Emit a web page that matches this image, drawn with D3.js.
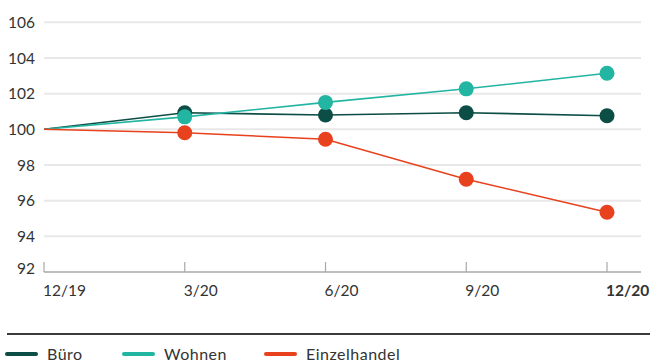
<!DOCTYPE html>
<html>
<head>
<meta charset="utf-8">
<script src="https://cdn.jsdelivr.net/npm/d3@7"></script>
<style>
  html, body { margin: 0; padding: 0; background: #fff; }
  svg { display: block; font-family: Lato, "Open Sans", sans-serif; }
</style>
</head>
<body>
<svg id="chart" width="650" height="362"></svg>
<script>
// Quarterly index values (12/19 = 100)
const periods = ["12/19", "3/20", "6/20", "9/20", "12/20"];
const bueroValues = [100, 100.93, 100.8, 100.93, 100.76];
const wohnenValues = [100, 100.7, 101.51, 102.27, 103.14];
const einzelhandelValues = [100, 99.81, 99.44, 97.2, 95.35];
const yTicks = [92, 94, 96, 98, 100, 102, 104, 106];
const seriesNames = ["Büro", "Wohnen", "Einzelhandel"];
const seriesColors = ["#0c4d45", "#22b5a2", "#e8411d"];

const series = [
  { name: seriesNames[0], values: bueroValues, color: seriesColors[0] },
  { name: seriesNames[1], values: wohnenValues, color: seriesColors[1] },
  { name: seriesNames[2], values: einzelhandelValues, color: seriesColors[2] }
];

const svg = d3.select("#chart");
const plotLeft = 44, plotRight = 641, plotTop = 22.3, plotBottom = 272;

const x = d3.scalePoint().domain(periods).range([plotLeft, 607]);
const y = d3.scaleLinear().domain([92, 106]).range([plotBottom, plotTop]);

// horizontal gridlines
svg.append("g")
  .selectAll("line")
  .data(yTicks.filter(t => t > 92))
  .join("line")
  .attr("x1", plotLeft).attr("x2", plotRight)
  .attr("y1", d => y(d)).attr("y2", d => y(d))
  .attr("stroke", "#e8e8e8").attr("stroke-width", 2);

// y labels
svg.append("g")
  .selectAll("text")
  .data(yTicks)
  .join("text")
  .attr("x", 35)
  .attr("y", d => y(d) + (d === 92 ? -4 : 0))
  .attr("dy", "0.36em")
  .attr("text-anchor", "end")
  .attr("font-size", 15.5)
  .attr("fill", "#333")
  .text(d => d);

// x axis
const xAxis = svg.append("g").attr("transform", `translate(0,${plotBottom})`);
xAxis.append("line")
  .attr("x1", plotLeft).attr("x2", plotRight)
  .attr("stroke", "#a8a8a8").attr("stroke-width", 1.5);
xAxis.selectAll(".tick")
  .data(periods)
  .join("line")
  .attr("class", "tick")
  .attr("x1", d => x(d)).attr("x2", d => x(d))
  .attr("y1", -10).attr("y2", 0)
  .attr("stroke", "#a8a8a8").attr("stroke-width", 1.2);
xAxis.selectAll("text")
  .data(periods)
  .join("text")
  .attr("x", d => x(d) - 1)
  .attr("y", 24)
  .attr("font-size", 15.5)
  .attr("fill", "#333")
  .attr("font-weight", (d, i) => i === periods.length - 1 ? 700 : 400)
  .text(d => d);

// lines and dots
const line = d3.line().x((d, i) => x(periods[i])).y(d => y(d));
const g = svg.append("g");
series.forEach(s => {
  g.append("path")
    .datum(s.values)
    .attr("fill", "none")
    .attr("stroke", s.color)
    .attr("stroke-width", 1.6)
    .attr("d", line);
});
series.forEach(s => {
  g.append("g")
    .selectAll("circle")
    .data(s.values.slice(1))
    .join("circle")
    .attr("cx", (d, i) => x(periods[i + 1]))
    .attr("cy", d => y(d))
    .attr("r", 7.5)
    .attr("fill", s.color);
});

// legend
svg.append("line")
  .attr("x1", 7).attr("x2", 650)
  .attr("y1", 334).attr("y2", 334)
  .attr("stroke", "#3a3a3a").attr("stroke-width", 2);

const legendX = [7, 124, 266];
const legend = svg.append("g")
  .selectAll("g")
  .data(series)
  .join("g")
  .attr("transform", (d, i) => `translate(${legendX[i]},354)`);
legend.append("line")
  .attr("x1", 0).attr("x2", 29)
  .attr("stroke", d => d.color)
  .attr("stroke-width", 4)
  .attr("stroke-linecap", "round");
legend.append("text")
  .attr("x", 40)
  .attr("dy", "0.36em")
  .attr("font-size", 16)
  .attr("letter-spacing", 0.5)
  .attr("fill", "#333")
  .text(d => d.name);
</script>
</body>
</html>
